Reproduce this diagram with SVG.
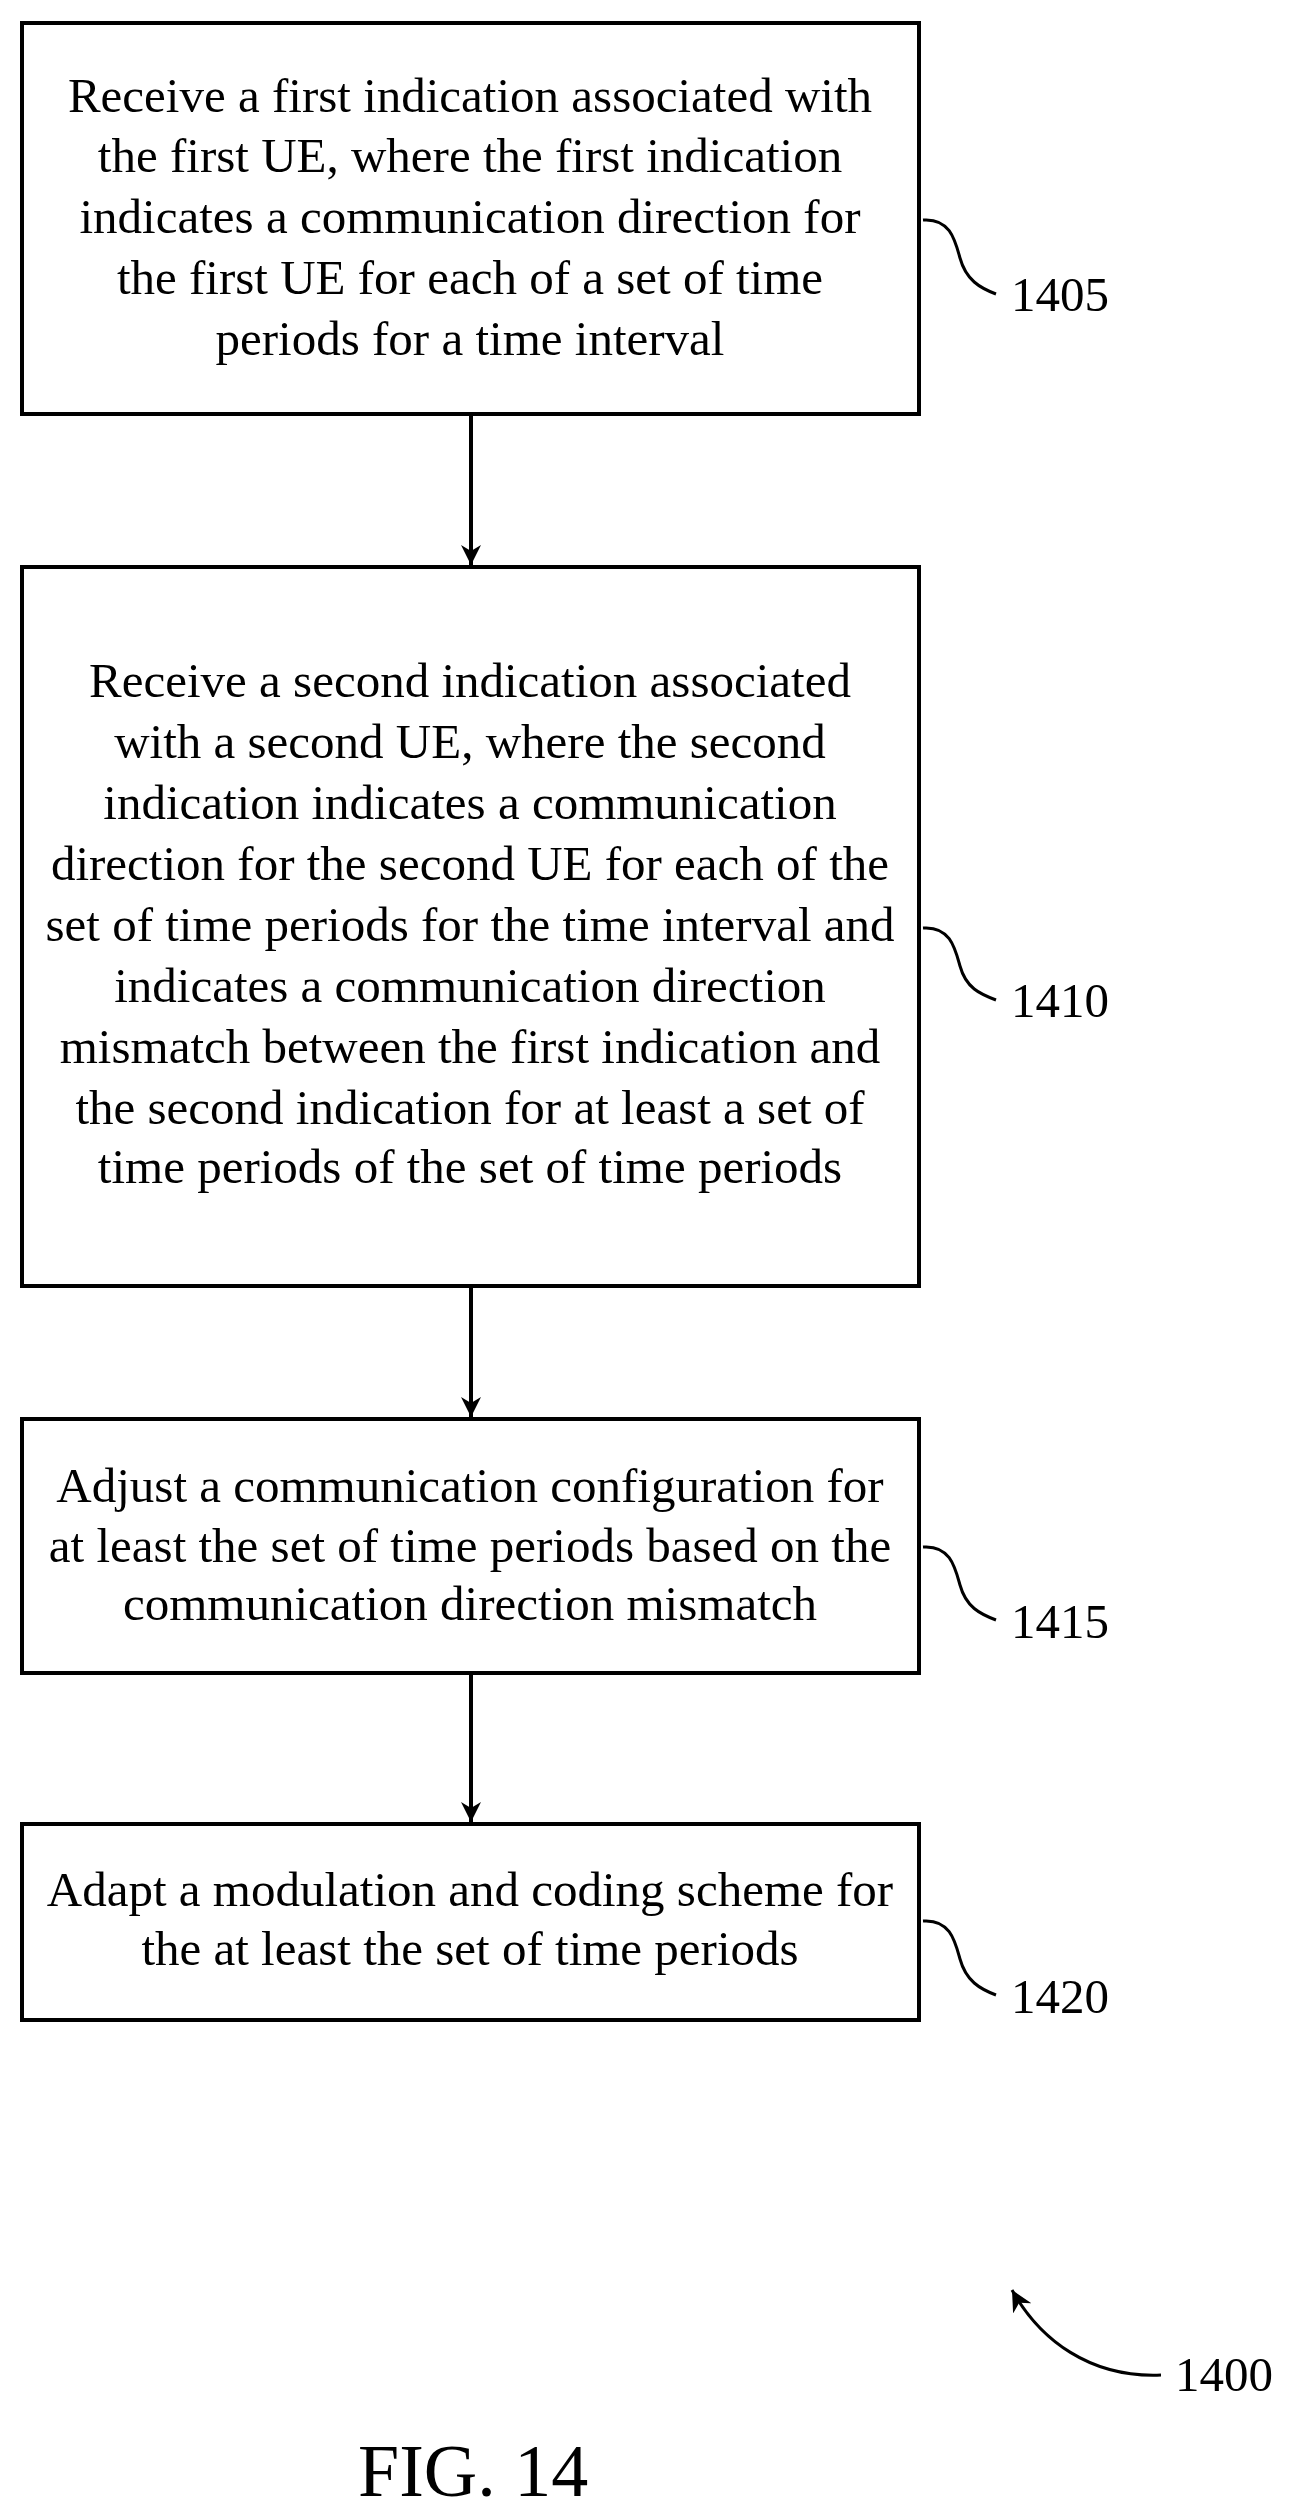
<svg xmlns="http://www.w3.org/2000/svg" width="1313" height="2511" viewBox="0 0 1313 2511">
<style>
.box{fill:#fff;stroke:#000;stroke-width:4}
.t{font-family:"Liberation Serif",serif;font-size:49px;text-anchor:middle;fill:#000}
.lb{font-family:"Liberation Serif",serif;font-size:49px;fill:#000}
.ln{fill:none;stroke:#000;stroke-width:3}
.ar{fill:none;stroke:#000;stroke-width:4}
</style>
<defs>
<marker id="ah" viewBox="0 0 10 10" refX="10" refY="5" markerWidth="5" markerHeight="5" orient="auto" markerUnits="strokeWidth"><path d="M0,0 L10,5 L0,10 L3,5 Z" fill="#000"/></marker>
<marker id="ah2" viewBox="0 0 10 10" refX="10" refY="5" markerWidth="7" markerHeight="7" orient="auto" markerUnits="strokeWidth"><path d="M0,0 L10,5 L0,10 L3,5 Z" fill="#000"/></marker>
</defs>
<g id="connectors">
<line class="ar" x1="471" y1="414" x2="471" y2="565" marker-end="url(#ah)"/>
<line class="ar" x1="471" y1="1286" x2="471" y2="1417" marker-end="url(#ah)"/>
<line class="ar" x1="471" y1="1673" x2="471" y2="1822" marker-end="url(#ah)"/>
</g>
<g id="n1405">
<rect class="box" x="22" y="23" width="897" height="391"/>
<text class="t" x="470" y="112">Receive a first indication associated with</text>
<text class="t" x="470" y="172">the first UE, where the first indication</text>
<text class="t" x="470" y="233">indicates a communication direction for</text>
<text class="t" x="470" y="294">the first UE for each of a set of time</text>
<text class="t" x="470" y="355">periods for a time interval</text>
<path class="ln" d="M923,220 C950,218 955,240 960,258 C966,280 980,288 996,294"/>
<text class="lb" x="1011" y="311">1405</text>
</g>
<g id="n1410">
<rect class="box" x="22" y="567" width="897" height="719"/>
<text class="t" x="470" y="697">Receive a second indication associated</text>
<text class="t" x="470" y="758">with a second UE, where the second</text>
<text class="t" x="470" y="819">indication indicates a communication</text>
<text class="t" x="470" y="880">direction for the second UE for each of the</text>
<text class="t" x="470" y="941">set of time periods for the time interval and</text>
<text class="t" x="470" y="1002">indicates a communication direction</text>
<text class="t" x="470" y="1063">mismatch between the first indication and</text>
<text class="t" x="470" y="1124">the second indication for at least a set of</text>
<text class="t" x="470" y="1183">time periods of the set of time periods</text>
<path class="ln" d="M923,928 C950,926 955,948 960,966 C966,988 980,994 996,1000"/>
<text class="lb" x="1011" y="1017">1410</text>
</g>
<g id="n1415">
<rect class="box" x="22" y="1419" width="897" height="254"/>
<text class="t" x="470" y="1502">Adjust a communication configuration for</text>
<text class="t" x="470" y="1562">at least the set of time periods based on the</text>
<text class="t" x="470" y="1620">communication direction mismatch</text>
<path class="ln" d="M923,1547 C950,1545 955,1567 960,1585 C966,1607 980,1614 996,1620"/>
<text class="lb" x="1011" y="1638">1415</text>
</g>
<g id="n1420">
<rect class="box" x="22" y="1824" width="897" height="196"/>
<text class="t" x="470" y="1906">Adapt a modulation and coding scheme for</text>
<text class="t" x="470" y="1965">the at least the set of time periods</text>
<path class="ln" d="M923,1921 C950,1919 955,1941 960,1959 C966,1981 980,1989 996,1995"/>
<text class="lb" x="1011" y="2013">1420</text>
</g>
<g id="n1400">
<path class="ln" d="M1161,2375 C1090,2378 1040,2340 1012,2290" marker-end="url(#ah2)"/>
<text class="lb" x="1175" y="2391">1400</text>
</g>
<text x="358" y="2496" style="font-family:'Liberation Serif',serif;font-size:74px;fill:#000">FIG. 14</text>
</svg>
